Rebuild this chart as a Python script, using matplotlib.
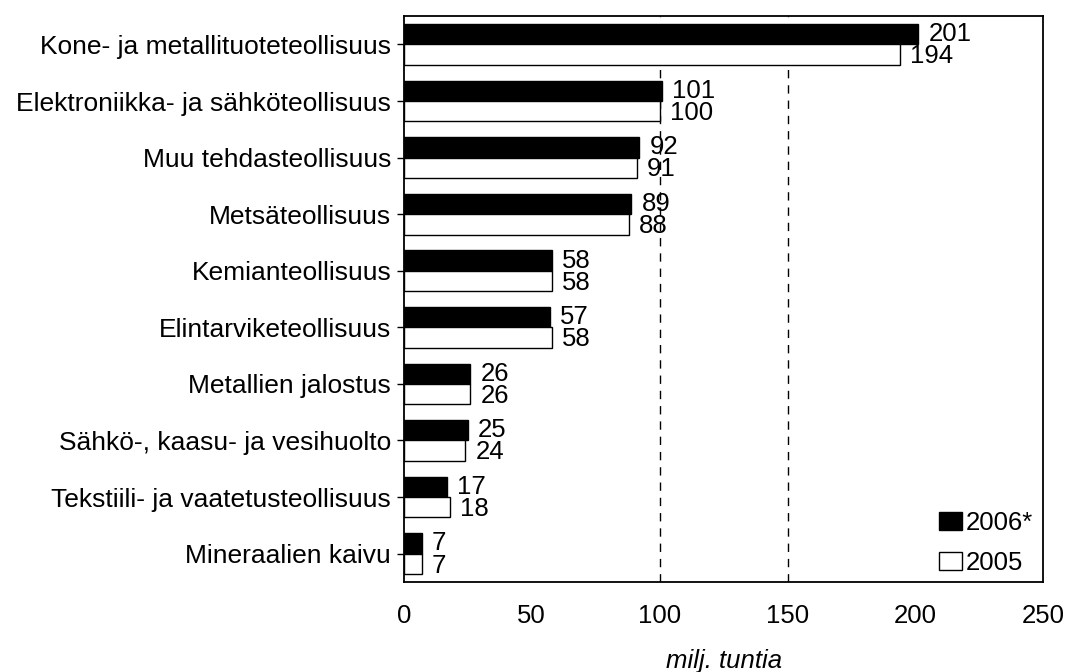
import numpy as np
import matplotlib
matplotlib.use("Agg")
import matplotlib.pyplot as plt

plt.rcParams.update({"font.family": "Liberation Sans", "font.size": 18.5})

toimialat = ["Kone- ja metallituoteteollisuus", "Elektroniikka- ja sähköteollisuus",
             "Muu tehdasteollisuus", "Metsäteollisuus", "Kemianteollisuus",
             "Elintarviketeollisuus", "Metallien jalostus", "Sähkö-, kaasu- ja vesihuolto",
             "Tekstiili- ja vaatetusteollisuus", "Mineraalien kaivu"]
v2006 = [201, 101, 92, 89, 58, 57, 26, 25, 17, 7]
v2005 = [194, 100, 91, 88, 58, 58, 26, 24, 18, 7]

y = np.arange(len(toimialat))
h = 0.36

fig = plt.figure(figsize=(10.68, 6.72), dpi=100)
ax = fig.add_axes([0.378, 0.134, 0.599, 0.842])

ax.barh(y - h / 2, v2006, height=h, color="black", edgecolor="black",
        linewidth=1.0, label="2006*")
ax.barh(y + h / 2, v2005, height=h, color="white", edgecolor="black",
        linewidth=1.0, label="2005")
for yi, a, b in zip(y, v2006, v2005):
    ax.text(a + 4, yi - h / 2, str(a), va="center", ha="left", fontsize=18.5)
    ax.text(b + 4, yi + h / 2 + 0.03, str(b), va="center", ha="left", fontsize=18.5)

for gx in (100, 150):
    ax.axvline(gx, color="black", lw=1.0, ls=(0, (6, 5)), zorder=0)

ax.set_xlim(0, 250)
ax.set_ylim(len(toimialat) - 0.5, -0.5)
ax.set_yticks(y)
ax.set_yticklabels(toimialat, fontsize=19)
ax.set_xticks([0, 50, 100, 150, 200, 250])
ax.tick_params(axis="y", length=5, width=1, pad=4)
ax.tick_params(axis="x", length=0, pad=16)
for sp in ax.spines.values():
    sp.set_linewidth(1.3)
ax.set_xlabel("milj. tuntia", style="italic", labelpad=15)

ax.legend(loc="lower right", frameon=False, fontsize=18.5, handlelength=0.9,
          handleheight=0.7, handletextpad=0.15, labelspacing=0.6,
          bbox_to_anchor=(1.0, -0.005), borderaxespad=0.0)

fig.savefig("out.png", dpi=100, facecolor="white")
